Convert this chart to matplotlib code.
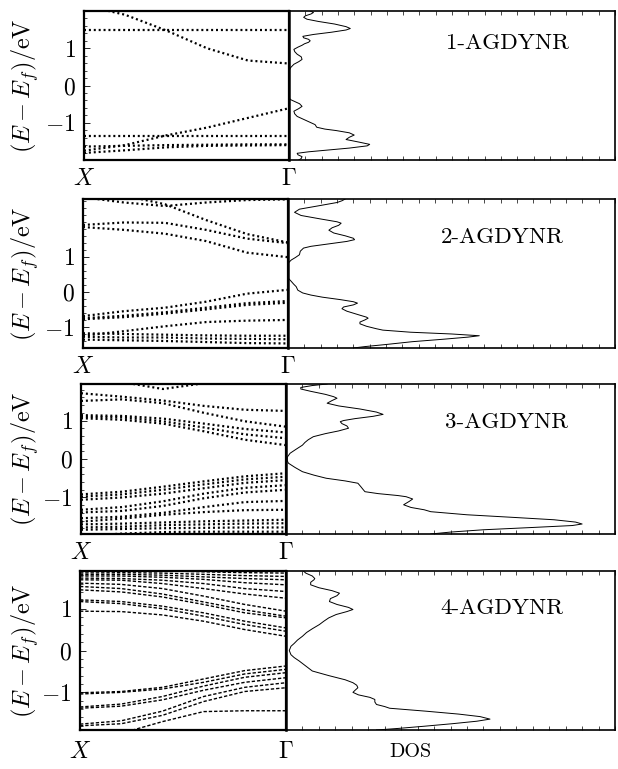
import numpy as np
import matplotlib
matplotlib.use("Agg")
import matplotlib.pyplot as plt
from matplotlib.ticker import MultipleLocator, FixedLocator

plt.rcParams['mathtext.fontset'] = 'cm'
plt.rcParams['font.family'] = ['cmr10', 'DejaVu Serif']
plt.rcParams['axes.unicode_minus'] = False
plt.rcParams['axes.formatter.use_mathtext'] = True

# k path X -> Gamma, sampled at the same points for every band
k_pts = [0.0, 0.2, 0.4, 0.6, 0.8, 1.0]

names = ['1-AGDYNR', '2-AGDYNR', '3-AGDYNR', '4-AGDYNR']
y_limits = [(-2.0, 2.0), (-1.6, 2.65), (-1.95, 1.95), (-1.9, 1.9)]

bands_1 = [
    [1.49, 1.49, 1.49, 1.49, 1.49, 1.49],
    [2.15, 1.90, 1.48, 1.00, 0.67, 0.59],
    [-1.75, -1.60, -1.34, -1.13, -0.87, -0.61],
    [-1.35, -1.35, -1.35, -1.35, -1.35, -1.35],
    [-1.64, -1.62, -1.60, -1.59, -1.58, -1.58],
    [-1.81, -1.74, -1.66, -1.62, -1.61, -1.60],
]

bands_2 = [
    [2.70, 2.55, 2.45, 2.55, 2.62, 2.64],
    [2.90, 2.75, 2.50, 2.05, 1.65, 1.41],
    [1.91, 1.98, 1.97, 1.77, 1.52, 1.39],
    [1.85, 1.77, 1.66, 1.45, 1.12, 0.99],
    [-0.69, -0.55, -0.45, -0.28, -0.05, 0.06],
    [-0.75, -0.68, -0.58, -0.45, -0.32, -0.26],
    [-0.78, -0.72, -0.62, -0.50, -0.37, -0.31],
    [-1.25, -1.12, -0.98, -0.86, -0.82, -0.80],
    [-1.18, -1.20, -1.22, -1.24, -1.25, -1.25],
    [-1.28, -1.30, -1.30, -1.33, -1.34, -1.35],
    [-1.36, -1.38, -1.40, -1.43, -1.46, -1.47],
]

bands_3 = [
    [2.30, 2.00, 1.82, 1.97, 2.10, 2.20],
    [1.71, 1.62, 1.52, 1.38, 1.28, 1.25],
    [1.51, 1.55, 1.45, 1.20, 0.98, 0.84],
    [1.14, 1.12, 1.05, 0.92, 0.78, 0.69],
    [1.10, 1.08, 0.98, 0.82, 0.64, 0.54],
    [1.06, 1.02, 0.92, 0.72, 0.50, 0.36],
    [-0.92, -0.85, -0.72, -0.58, -0.45, -0.37],
    [-0.98, -0.92, -0.80, -0.66, -0.53, -0.46],
    [-1.06, -1.00, -0.90, -0.76, -0.62, -0.55],
    [-1.32, -1.25, -1.10, -0.90, -0.75, -0.68],
    [-1.39, -1.35, -1.22, -1.02, -0.87, -0.80],
    [-1.54, -1.50, -1.40, -1.25, -1.12, -1.09],
    [-1.63, -1.55, -1.45, -1.38, -1.33, -1.32],
    [-1.70, -1.68, -1.65, -1.62, -1.60, -1.58],
    [-1.78, -1.76, -1.72, -1.70, -1.68, -1.67],
    [-1.84, -1.82, -1.80, -1.79, -1.78, -1.78],
    [-2.00, -1.94, -1.90, -1.89, -1.89, -1.89],
]

bands_4 = [
    [0.94, 0.93, 0.85, 0.70, 0.50, 0.34],
    [1.17, 1.12, 1.00, 0.82, 0.62, 0.46],
    [1.21, 1.17, 1.06, 0.90, 0.70, 0.54],
    [1.45, 1.40, 1.28, 1.10, 0.90, 0.78],
    [1.53, 1.48, 1.35, 1.16, 0.97, 0.82],
    [1.61, 1.58, 1.48, 1.30, 1.10, 0.94],
    [1.69, 1.68, 1.60, 1.48, 1.35, 1.25],
    [1.73, 1.72, 1.68, 1.60, 1.48, 1.41],
    [1.78, 1.78, 1.75, 1.70, 1.62, 1.57],
    [1.81, 1.82, 1.80, 1.76, 1.72, 1.69],
    [1.85, 1.86, 1.85, 1.82, 1.79, 1.77],
    [1.88, 1.90, 1.90, 1.88, 1.86, 1.85],
    [-1.01, -0.98, -0.88, -0.68, -0.48, -0.37],
    [-1.04, -1.00, -0.92, -0.76, -0.56, -0.45],
    [-1.35, -1.28, -1.10, -0.85, -0.64, -0.53],
    [-1.38, -1.33, -1.18, -0.95, -0.76, -0.65],
    [-1.76, -1.68, -1.45, -1.10, -0.88, -0.77],
    [-1.80, -1.75, -1.55, -1.22, -0.98, -0.89],
    [-2.10, -1.98, -1.70, -1.46, -1.44, -1.44],
]

# density of states: energy (eV) and DOS (arb. units)
dos_E_1 = [2.0, 1.96, 1.92, 1.87, 1.83, 1.78, 1.72, 1.65, 1.58, 1.53, 1.49, 1.43,
           1.37, 1.32, 1.28, 1.24, 1.2, 1.16, 1.12, 1.08, 1.03, 0.97, 0.91, 0.84,
           0.77, 0.70, 0.64, 0.57, 0.48, 0.39, -0.33, -0.38, -0.42, -0.49, -0.56,
           -0.62, -0.69, -0.76, -0.83, -0.9, -0.97, -1.05, -1.12, -1.17, -1.21,
           -1.27, -1.33, -1.39, -1.45, -1.52, -1.58, -1.62, -1.68, -1.73, -1.78,
           -1.82, -1.86, -1.91, -1.96, -2.0]
dos_1 = [1.3, 1.5, 1.35, 1.0, 0.9, 1.1, 1.8, 2.8, 3.5, 3.76, 3.5, 2.6,
         1.5, 0.85, 0.9, 1.2, 1.3, 1.2, 0.95, 0.8, 0.55, 0.3, 0.35, 0.5,
         0.75, 0.8, 0.6, 0.3, 0.1, 0.0, 0.0, 0.1, 0.3, 0.65, 0.8,
         0.6, 0.3, 0.35, 0.5, 0.85, 1.2, 1.6, 1.7, 2.2, 2.9,
         3.7, 4.0, 3.7, 3.5, 4.3, 4.95, 4.8, 3.7, 2.45, 1.2,
         0.5, 0.55, 0.8, 0.75, 0.6]

dos_E_2 = [2.65, 2.6, 2.55, 2.45, 2.36, 2.27, 2.18, 2.08, 2.0, 1.96, 1.9, 1.83,
           1.76, 1.68, 1.6, 1.53, 1.49, 1.44, 1.37, 1.30, 1.25, 1.16, 1.06, 0.98,
           0.91, 0.84, 0.77, 0.4, 0.3, 0.22, 0.15, 0.05, -0.03, -0.09, -0.15,
           -0.22, -0.28, -0.32, -0.37, -0.43, -0.48, -0.55, -0.65, -0.72, -0.75,
           -0.80, -0.86, -0.91, -0.98, -1.05, -1.09, -1.15, -1.20, -1.25, -1.29,
           -1.35, -1.42, -1.50, -1.56, -1.6]
dos_2 = [3.5, 3.3, 3.0, 1.8, 0.7, 0.4, 0.8, 2.0, 3.0, 3.25, 3.1, 2.7,
         2.5, 2.8, 3.5, 4.0, 4.07, 3.6, 2.5, 1.4, 0.95, 0.75, 0.7, 0.45,
         0.2, 0.05, 0.0, 0.0, 0.2, 0.35, 0.5, 0.6, 0.9, 1.4, 2.1,
         3.2, 4.0, 4.25, 4.0, 3.4, 3.3, 3.6, 4.3, 4.8, 4.9,
         4.7, 4.4, 4.4, 4.8, 5.4, 5.8, 7.5, 10.0, 11.7, 11.0,
         9.5, 7.6, 6.0, 4.7, 4.0]

dos_E_3 = [1.95, 1.91, 1.86, 1.82, 1.76, 1.68, 1.62, 1.58, 1.52, 1.45, 1.38, 1.30,
           1.22, 1.16, 1.11, 1.05, 1.0, 0.97, 0.92, 0.86, 0.80, 0.73, 0.66, 0.58,
           0.5, 0.43, 0.36, 0.25, 0.15, 0.05, -0.05, -0.11, -0.22, -0.33, -0.42,
           -0.50, -0.57, -0.63, -0.72, -0.8, -0.85, -0.9, -0.95, -0.98, -1.04,
           -1.1, -1.19, -1.26, -1.32, -1.37, -1.45, -1.52, -1.58, -1.64, -1.69,
           -1.73, -1.78, -1.84, -1.90, -1.95]
dos_3 = [2.5, 1.6, 0.9, 0.9, 1.5, 2.4, 2.9, 3.1, 2.8, 2.5, 3.2, 4.5,
         5.5, 5.9, 5.3, 4.2, 3.5, 3.3, 3.4, 3.7, 3.8, 3.2, 2.4, 1.66,
         1.35, 1.15, 1.0, 0.6, 0.25, 0.08, 0.08, 0.15, 0.55, 1.0, 1.7,
         2.44, 3.6, 4.37, 4.55, 4.7, 4.8, 5.6, 6.8, 7.3, 7.7,
         7.5, 7.15, 7.6, 8.4, 8.8, 11.0, 13.9, 16.3, 17.6, 18.0,
         17.4, 15.0, 12.0, 10.0, 8.8]

dos_E_4 = [1.9, 1.85, 1.78, 1.72, 1.69, 1.63, 1.57, 1.5, 1.43, 1.37, 1.31, 1.24,
           1.17, 1.10, 1.03, 0.98, 0.93, 0.86, 0.78, 0.7, 0.62, 0.52, 0.43, 0.34,
           0.25, 0.17, 0.10, 0.0, -0.10, -0.17, -0.25, -0.37, -0.49, -0.6, -0.7,
           -0.77, -0.83, -0.89, -0.95, -1.00, -1.06, -1.12, -1.17, -1.23, -1.29,
           -1.34, -1.38, -1.45, -1.52, -1.58, -1.64, -1.69, -1.75, -1.81, -1.86, -1.9]
dos_4 = [1.06, 1.2, 1.6, 1.75, 1.7, 1.5, 1.5, 2.0, 2.8, 3.25, 3.1, 2.7,
         2.64, 3.1, 3.8, 4.07, 3.7, 3.05, 2.6, 2.3, 2.03, 1.6, 1.25, 1.0,
         0.7, 0.5, 0.3, 0.2, 0.3, 0.5, 0.8, 1.2, 1.6, 2.6, 3.6,
         4.07, 4.3, 4.37, 4.2, 4.07, 4.4, 5.1, 5.4, 5.4, 5.5,
         6.0, 6.3, 8.5, 10.5, 11.8, 12.4, 11.6, 10.1, 8.4, 6.9, 5.5]

all_bands = [bands_1, bands_2, bands_3, bands_4]
all_dos = [(dos_E_1, dos_1), (dos_E_2, dos_2), (dos_E_3, dos_3), (dos_E_4, dos_4)]

W, H = 618, 769
fig = plt.figure(figsize=(W / 100, H / 100), dpi=100)


def px(x, y):
    return x / W, 1 - y / H


# panel boxes in pixels: band left, band right (= DOS left), top, bottom
boxes = [(84, 289, 11, 160), (83, 288, 199, 348), (81, 286, 384, 534), (80, 286, 571, 730)]
dos_right = 615
label_pos = [(507, 43), (502, 237), (507, 422), (502, 608)]

for i, (l, r, t, b) in enumerate(boxes):
    ax = fig.add_axes([l / W, 1 - b / H, (r - l) / W, (b - t) / H])
    axd = fig.add_axes([r / W, 1 - b / H, (dos_right - r) / W, (b - t) / H])

    style = (0, (2.4, 1.4)) if i == 3 else (0, (0.9, 1.3))
    lw = 1.0 if i == 3 else 1.6
    for band in all_bands[i]:
        ax.plot(k_pts, band, color='black', lw=lw, linestyle=style)
    ax.set_xlim(0, 1)
    ax.set_ylim(*y_limits[i])
    ax.set_xticks([])
    ax.yaxis.set_major_locator(FixedLocator([-1, 0, 1]))
    ax.set_yticklabels(['$-1$', '$0$', '$1$'], fontsize=17)
    ax.yaxis.set_minor_locator(MultipleLocator(0.2))
    ax.tick_params(axis='y', which='major', direction='in', length=4, width=0.6, pad=6)
    ax.tick_params(axis='y', which='minor', direction='in', length=2, width=0.5)
    for s in ax.spines.values():
        s.set_linewidth(1.6)

    E, D = all_dos[i]
    axd.plot(D, E, color='black', lw=0.7)
    axd.set_xlim(0, 20)
    axd.set_ylim(*y_limits[i])
    axd.set_yticks([])
    axd.xaxis.set_major_locator(MultipleLocator(1))
    axd.tick_params(axis='x', which='major', direction='in', length=3, width=0.5,
                    top=True, bottom=True, labelbottom=False)
    for s in axd.spines.values():
        s.set_linewidth(1.2)
    axd.spines['left'].set_linewidth(1.8)

    lx, ly = label_pos[i]
    fig.text(*px(lx, ly), names[i], fontsize=16.5, ha='center', va='center')

    yl = b + 19 if i < 3 else b + 22
    fig.text(*px(l, yl), '$X$', fontsize=17, ha='center', va='center')
    fig.text(*px(r, yl), r'$\Gamma$', fontsize=17, ha='center', va='center')
    fig.text(*px(25, (t + b) / 2), r'$(E-E_f)/\mathrm{eV}$', fontsize=17.5,
             rotation=90, ha='center', va='center')

fig.text(*px(410, 752), 'DOS', fontsize=14.5, ha='center', va='center')

fig.savefig('out.png', dpi=100)
